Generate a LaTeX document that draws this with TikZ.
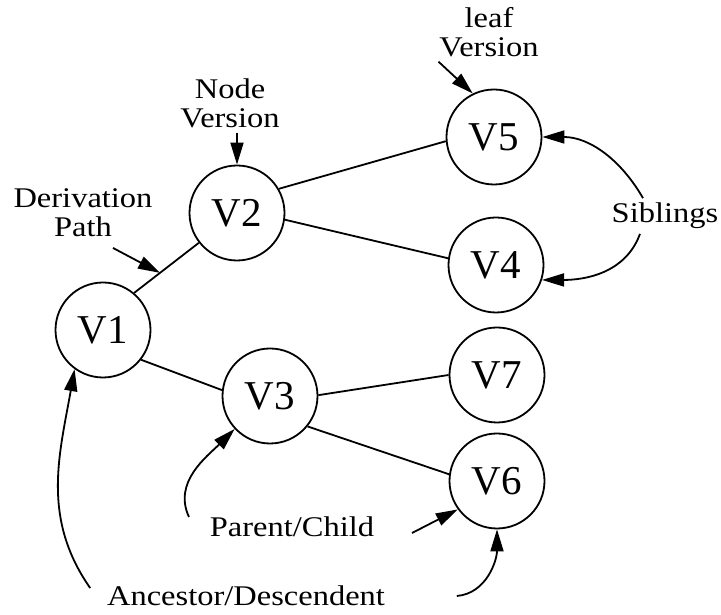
\documentclass[tikz,border=0pt]{standalone}
\usepackage{fontspec}
\setmainfont{Liberation Serif}
\newfontfamily\notefont{Liberation Serif}[FakeStretch=1.14]
\usetikzlibrary{positioning}
\usetikzlibrary{arrows.meta}

\begin{document}
\begin{tikzpicture}[x=1pt,y=1pt,line width=1.8pt,
  version/.style={circle,draw,minimum size=95pt,inner sep=0pt,font=\fontsize{41}{43}\selectfont},
  note/.style={align=center,inner sep=4pt,font=\notefont\fontsize{28.5}{29}\selectfont},
  pointer/.style={-{Triangle[length=22pt,width=13pt]}}]
\useasboundingbox (0,0) rectangle (721,615);

% the versions
\node[version] (v1) at (103,285) {V1};
\node[version] (v2) at (237,402) {V2};
\node[version] (v3) at (270,219) {V3};
\node[version] (v5) at (494,478) {V5};
\node[version] (v4) at (496,350) {V4};
\node[version] (v7) at (497,240) {V7};
\node[version] (v6) at (497,134) {V6};

% derivation edges
\draw (v1.50) -- coordinate[pos=.4] (derivation) (v2.218);
\draw (v2.30) -- (v5.185);
\draw (v2.-8) -- (v4.172);
\draw (v1.-38) -- (v3.173);
\draw (v3.1) -- (v7.180);
\draw (v3.-39) -- (v6.172);

% terms
\node[note,above=32pt of v2,xshift=-7pt] (node version) {Node\\Version};
\node[note] (derivation path) at (83,402) {Derivation\\Path};
\node[note] (leaf version) at (489,583) {leaf\\Version};
\node[note] (siblings) at (665,399) {Siblings};
\node[note] (parent child) at (292,88) {Parent/Child};
\node[note] (ancestor) at (246,19) {Ancestor/Descendent};

\draw[pointer] (node version.south -| v2.north) -- (v2.north);
\draw[pointer] ([xshift=30pt,yshift=-6pt]derivation path.south) -- (derivation);
\draw[pointer] ([xshift=4pt]leaf version.south west) -- (v5.116);
\draw[pointer] ([xshift=-22pt]siblings.north) to[out=120,in=0] (v5.east);
\draw[pointer] ([xshift=-25pt]siblings.south) to[out=-110,in=0] (v4.-18);
\draw[pointer] ([xshift=-16pt,yshift=10pt]parent child.west) to[out=115,in=225] (v3.223);
\draw[pointer] ([xshift=33pt,yshift=-6pt]parent child.east) -- (v6.216);
\draw[pointer] ([xshift=-12pt,yshift=8pt]ancestor.west) to[out=125,in=260] (v1.234);
\draw[pointer] ([xshift=67pt]ancestor.east) to[out=5,in=-90] (v6.south);
\end{tikzpicture}
\end{document}
